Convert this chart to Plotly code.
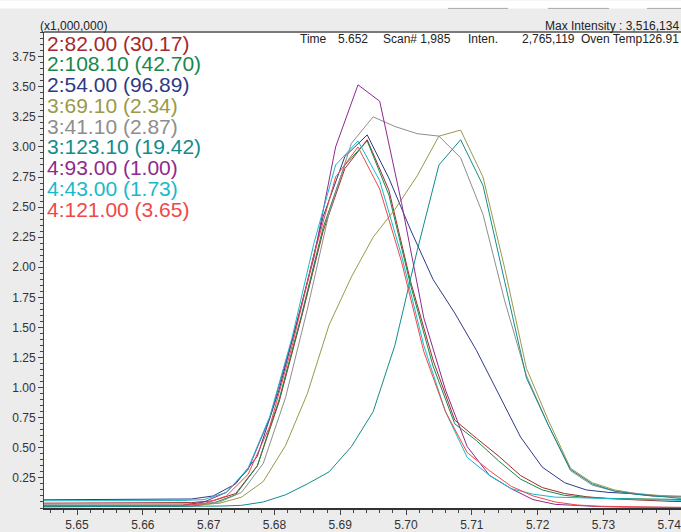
import plotly.graph_objects as go

# ---------------- data (intensities in units of 1,000,000) ----------------
times_seg2 = [5.6441, 5.6474, 5.6507, 5.6541, 5.6574, 5.6607, 5.6641, 5.6674, 5.6707, 5.6741,
              5.6774, 5.6807, 5.6841, 5.6874, 5.6907, 5.6941, 5.6974, 5.7007, 5.7041, 5.7074,
              5.7107, 5.7141, 5.7174, 5.7207, 5.7241, 5.7274, 5.7307, 5.7341, 5.7374, 5.7407, 5.7441]
times_seg3 = [5.6417, 5.6450, 5.6483, 5.6517, 5.6550, 5.6583, 5.6617, 5.6650, 5.6683, 5.6717,
              5.6750, 5.6783, 5.6817, 5.6850, 5.6883, 5.6917, 5.6950, 5.6983, 5.7017, 5.7050,
              5.7083, 5.7117, 5.7150, 5.7183, 5.7217, 5.7250, 5.7283, 5.7317, 5.7350, 5.7383,
              5.7417, 5.7450]
times_seg4 = [5.6427, 5.6460, 5.6493, 5.6527, 5.6560, 5.6593, 5.6627, 5.6660, 5.6693, 5.6727,
              5.6760, 5.6793, 5.6827, 5.6860, 5.6893, 5.6927, 5.6960, 5.6993, 5.7027, 5.7060,
              5.7093, 5.7127, 5.7160, 5.7193, 5.7227, 5.7260, 5.7293, 5.7327, 5.7360, 5.7393, 5.7427]

mz_2_82 = [0.040, 0.040, 0.041, 0.040, 0.040, 0.041, 0.042, 0.045, 0.060, 0.120,
           0.350, 0.880, 1.580, 2.300, 2.820, 3.060, 2.640, 1.880, 1.230, 0.730,
           0.580, 0.430, 0.270, 0.170, 0.120, 0.094, 0.078, 0.070, 0.060, 0.054, 0.052]
mz_2_108 = [0.010, 0.010, 0.011, 0.010, 0.010, 0.010, 0.011, 0.015, 0.040, 0.110,
            0.350, 0.900, 1.600, 2.330, 2.850, 3.050, 2.600, 1.850, 1.180, 0.700,
            0.560, 0.390, 0.240, 0.150, 0.105, 0.088, 0.080, 0.076, 0.072, 0.070, 0.069]
mz_2_54 = [0.068, 0.069, 0.068, 0.069, 0.070, 0.069, 0.070, 0.075, 0.100, 0.200,
           0.430, 0.980, 1.680, 2.420, 2.920, 3.100, 2.740, 2.310, 1.900, 1.620,
           1.310, 0.940, 0.590, 0.340, 0.210, 0.150, 0.130, 0.120, 0.100, 0.094, 0.092]
mz_3_69 = [0.020, 0.020, 0.020, 0.021, 0.020, 0.020, 0.021, 0.020, 0.025, 0.040,
           0.090, 0.220, 0.520, 0.950, 1.520, 1.920, 2.250, 2.480, 2.760, 3.090,
           3.140, 2.750, 1.990, 1.160, 0.720, 0.330, 0.210, 0.150, 0.120, 0.105, 0.095, 0.093]
mz_3_41 = [0.030, 0.030, 0.031, 0.030, 0.030, 0.031, 0.030, 0.030, 0.035, 0.050,
           0.130, 0.370, 0.920, 1.650, 2.450, 3.030, 3.250, 3.170, 3.110, 3.090,
           2.910, 2.440, 1.720, 1.100, 0.680, 0.310, 0.190, 0.140, 0.120, 0.100, 0.092, 0.090]
mz_3_123 = [0.010, 0.010, 0.010, 0.011, 0.010, 0.010, 0.010, 0.011, 0.012, 0.016,
            0.022, 0.050, 0.110, 0.200, 0.300, 0.510, 0.800, 1.350, 2.140, 2.850,
            3.060, 2.680, 1.880, 1.080, 0.680, 0.320, 0.200, 0.140, 0.115, 0.095, 0.080, 0.078]
mz_4_93 = [0.020, 0.020, 0.021, 0.020, 0.020, 0.020, 0.021, 0.022, 0.050, 0.130,
           0.320, 0.750, 1.400, 2.080, 3.000, 3.516, 3.380, 2.540, 1.580, 0.980,
           0.510, 0.270, 0.160, 0.070, 0.030, 0.020, 0.012, 0.008, 0.006, 0.005, 0.004]
mz_4_43 = [0.060, 0.060, 0.061, 0.060, 0.060, 0.060, 0.061, 0.062, 0.070, 0.130,
           0.330, 0.760, 1.420, 2.200, 2.850, 3.050, 2.720, 2.100, 1.350, 0.800,
           0.420, 0.270, 0.160, 0.115, 0.090, 0.085, 0.080, 0.075, 0.070, 0.065, 0.062]
mz_4_121 = [0.020, 0.020, 0.020, 0.021, 0.020, 0.020, 0.021, 0.022, 0.035, 0.100,
            0.280, 0.680, 1.350, 2.100, 2.750, 3.000, 2.650, 2.050, 1.300, 0.800,
            0.460, 0.310, 0.180, 0.100, 0.050, 0.025, 0.015, 0.010, 0.008, 0.006, 0.005]

series_labels = ["2:82.00 (30.17)", "2:108.10 (42.70)", "2:54.00 (96.89)",
                 "3:69.10 (2.34)", "3:41.10 (2.87)", "3:123.10 (19.42)",
                 "4:93.00 (1.00)", "4:43.00 (1.73)", "4:121.00 (3.65)"]
series_times = [times_seg2, times_seg2, times_seg2,
                times_seg3, times_seg3, times_seg3,
                times_seg4, times_seg4, times_seg4]
series_values = [mz_2_82, mz_2_108, mz_2_54, mz_3_69, mz_3_41, mz_3_123,
                 mz_4_93, mz_4_43, mz_4_121]
series_colors = ["#a32a2e", "#17884a", "#2f3a85", "#9a9a48", "#8e8e8e",
                 "#128c8c", "#8e2a8e", "#1ab8cc", "#f04848"]

x_tick_vals = [5.65, 5.66, 5.67, 5.68, 5.69, 5.70, 5.71, 5.72, 5.73, 5.74]
x_tick_text = ["5.65", "5.66", "5.67", "5.68", "5.69", "5.70", "5.71", "5.72", "5.73", "5.74"]
y_tick_vals = [0.25, 0.50, 0.75, 1.00, 1.25, 1.50, 1.75, 2.00, 2.25, 2.50, 2.75, 3.00, 3.25, 3.50, 3.75]
y_tick_text = ["0.25", "0.50", "0.75", "1.00", "1.25", "1.50", "1.75", "2.00", "2.25", "2.50",
               "2.75", "3.00", "3.25", "3.50", "3.75"]

header_scale = "(x1,000,000)"
header_max = "Max Intensity : 3,516,134"
info_items = ["Time", "5.652", "Scan# 1,985", "Inten.", "2,765,119", "Oven Temp126.91"]

# ---------------- figure ----------------
W, H = 681, 532
ML, MR, MT, MB = 44, 0, 32, 16
PW, PH = W - ML - MR, H - MT - MB
FONT = "Arial, 'Liberation Sans', sans-serif"


def px_x(px):
    return (px - ML) / PW


def px_y(py):
    return (H - MB - py) / PH


fig = go.Figure()
for lab, tt, vv, col in zip(series_labels, series_times, series_values, series_colors):
    fig.add_trace(go.Scatter(x=tt, y=vv, mode="lines", name=lab,
                             line=dict(color=col, width=1), showlegend=False,
                             hoverinfo="skip"))

annotations = []
# legend as coloured text
for i, (lab, col) in enumerate(zip(series_labels, series_colors)):
    annotations.append(dict(text=lab, x=px_x(45), y=px_y(43.3 + 21.1 * i),
                            xref="paper", yref="paper", xanchor="left", yanchor="middle",
                            showarrow=False, font=dict(family=FONT, size=21, color=col)))

annotations.append(dict(text=header_scale, x=px_x(38), y=px_y(26), xref="paper", yref="paper",
                        xanchor="left", yanchor="middle", showarrow=False,
                        font=dict(family=FONT, size=12, color="#222222")))
annotations.append(dict(text=header_max, x=px_x(681), y=px_y(26), xref="paper", yref="paper",
                        xanchor="right", yanchor="middle", showarrow=False,
                        font=dict(family=FONT, size=12, color="#222222")))
info_x = [298, 336, 381, 466, 520, 681]
info_anchor = ["left", "left", "left", "left", "left", "right"]
for t, xx, anc in zip(info_items, info_x, info_anchor):
    annotations.append(dict(text=t, x=px_x(xx), y=px_y(39), xref="paper", yref="paper",
                            xanchor=anc, yanchor="middle", showarrow=False,
                            font=dict(family=FONT, size=12, color="#222222")))

shapes = [
    # white strip at very top
    dict(type="rect", xref="paper", yref="paper", x0=px_x(0), x1=px_x(W), y0=px_y(8), y1=px_y(0),
         fillcolor="white", line=dict(width=0), layer="below"),
    # top frame line
    dict(type="line", xref="paper", yref="paper", x0=0, x1=1, y0=1, y1=1,
         line=dict(color="#7a7a7a", width=2)),
]
for a, b in [(448, 508), (548, 609), (647, 681)]:
    shapes.append(dict(type="line", xref="paper", yref="paper", x0=px_x(a), x1=px_x(b),
                       y0=px_y(8), y1=px_y(8), line=dict(color="#a8a8a8", width=1)))

fig.update_layout(
    width=W, height=H,
    margin=dict(l=ML, r=MR, t=MT, b=MB, pad=0),
    paper_bgcolor="#ececec", plot_bgcolor="white",
    showlegend=False,
    annotations=annotations, shapes=shapes,
    font=dict(family=FONT, size=12, color="#222222"),
)
fig.update_xaxes(range=[5.64498, 5.74179], showgrid=False, zeroline=False,
                 showline=True, linecolor="#333333", linewidth=1.5,
                 tickmode="array", tickvals=x_tick_vals, ticktext=x_tick_text,
                 ticks="outside", ticklen=5, tickcolor="#444444", tickwidth=1,
                 ticklabeloverflow="allow",
                 tickfont=dict(family=FONT, size=12, color="#333333"),
                 minor=dict(dtick=0.002, tick0=5.65, ticks="outside", ticklen=3,
                            tickcolor="#444444", showgrid=False))
fig.update_yaxes(range=[0, 3.955], showgrid=False, zeroline=False,
                 showline=True, linecolor="#444444", linewidth=1,
                 tickmode="array", tickvals=y_tick_vals, ticktext=y_tick_text,
                 ticks="outside", ticklen=5, tickcolor="#444444", tickwidth=1,
                 tickfont=dict(family=FONT, size=12, color="#333333"),
                 minor=dict(dtick=0.05, tick0=0, ticks="outside", ticklen=3,
                            tickcolor="#444444", showgrid=False))

fig.write_html("out.html", config={"displayModeBar": False},
               post_script="document.body.style.margin='0';document.body.style.overflow='hidden';")
